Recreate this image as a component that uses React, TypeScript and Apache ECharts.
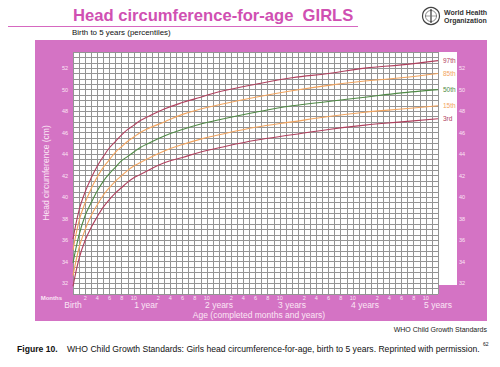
import React, { useEffect, useRef } from "react";
import * as echarts from "echarts";

const months = [0, 1, 2, 3, 4, 5, 6, 7, 8, 9, 10, 11, 12, 15, 18, 21, 24, 30, 36, 42, 48, 54, 60];
const p3 = [31.7, 34.3, 36.0, 37.2, 38.2, 39.1, 39.8, 40.4, 40.9, 41.4, 41.8, 42.1, 42.4, 43.2, 43.7, 44.2, 44.6, 45.3, 45.8, 46.3, 46.7, 47.0, 47.3];
const p15 = [32.7, 35.3, 37.0, 38.3, 39.3, 40.2, 40.9, 41.5, 42.0, 42.5, 42.9, 43.2, 43.5, 44.3, 44.9, 45.4, 45.8, 46.5, 47.0, 47.5, 47.9, 48.2, 48.5];
const p50 = [33.9, 36.5, 38.3, 39.5, 40.6, 41.5, 42.2, 42.8, 43.4, 43.8, 44.2, 44.6, 44.9, 45.7, 46.3, 46.8, 47.2, 47.9, 48.5, 48.9, 49.3, 49.7, 50.0];
const p85 = [35.1, 37.8, 39.5, 40.8, 41.9, 42.8, 43.5, 44.2, 44.7, 45.2, 45.6, 46.0, 46.3, 47.0, 47.7, 48.2, 48.6, 49.3, 49.9, 50.4, 50.8, 51.1, 51.5];
const p97 = [36.1, 38.8, 40.5, 41.8, 42.9, 43.8, 44.6, 45.2, 45.8, 46.3, 46.7, 47.1, 47.4, 48.2, 48.8, 49.3, 49.8, 50.5, 51.1, 51.5, 52.0, 52.3, 52.7];

const percentileNames = ["97th", "85th", "50th", "15th", "3rd"];
const yTickValues = [32, 34, 36, 38, 40, 42, 44, 46, 48, 50, 52];
const monthTickValues = [2, 4, 6, 8, 10, 14, 16, 18, 20, 22, 26, 28, 30, 32, 34, 38, 40, 42, 44, 46, 50, 52, 54, 56, 58];
const yearTickValues = [0, 12, 24, 36, 48, 60];
const yearLabels = ["Birth", "1 year", "2 years", "3 years", "4 years", "5 years"];

const PINK = "#d473c4";
const MAROON = "#b0405e";
const ORANGE = "#f2a45e";
const GREEN = "#4f8a45";
const LABEL = "#fbe6f5";
const FONT = "Liberation Sans, Arial, sans-serif";

export default function App() {
  const ref = useRef<HTMLDivElement>(null);
  useEffect(() => {
    if (!ref.current) return;
    const chart = echarts.init(ref.current, null, { renderer: "svg" });
    const seriesData = [p97, p85, p50, p15, p3];
    const colors = [MAROON, ORANGE, GREEN, ORANGE, MAROON];
    const series: any[] = seriesData.map((vals, i) => ({
      type: "line",
      name: percentileNames[i],
      data: months.map((m, j) => [m, vals[j]]),
      smooth: 0.4,
      showSymbol: false,
      symbol: "none",
      lineStyle: { color: colors[i], width: 1.1 },
      xAxisIndex: 0,
      yAxisIndex: 0,
      endLabel: {
        show: true,
        formatter: percentileNames[i],
        color: colors[i],
        fontSize: 6.5,
        fontFamily: FONT,
        distance: 5,
      },
      z: 5,
    }));

    chart.setOption({
      animation: false,
      textStyle: { fontFamily: FONT },
      graphic: [
        { type: "rect", shape: { x: 35, y: 40, width: 452, height: 281 }, style: { fill: PINK }, z: -10 },
        { type: "rect", shape: { x: 438, y: 52, width: 19, height: 233 }, style: { fill: "#ffffff" }, z: -5 },
        {
          type: "text", x: 73, y: 15,
          style: { text: "Head circumference-for-age  GIRLS", fill: "#d050b2", font: "bold 16.6px " + FONT, verticalAlign: "middle" },
        },
        { type: "line", shape: { x1: 8, y1: 26.5, x2: 358, y2: 26.5 }, style: { stroke: "#d668c0", lineWidth: 1 } },
        {
          type: "text", x: 72, y: 32,
          style: { text: "Birth to 5 years (percentiles)", fill: "#111", font: "7.9px " + FONT, verticalAlign: "middle" },
        },
        { type: "circle", shape: { cx: 431, cy: 16, r: 8.5 }, style: { fill: "#fff", stroke: "#444", lineWidth: 1.2 } },
        { type: "circle", shape: { cx: 431, cy: 16, r: 5.5 }, style: { fill: "none", stroke: "#666", lineWidth: 0.8 } },
        { type: "line", shape: { x1: 431, y1: 9, x2: 431, y2: 23 }, style: { stroke: "#333", lineWidth: 1.2 } },
        { type: "line", shape: { x1: 425, y1: 16, x2: 437, y2: 16 }, style: { stroke: "#777", lineWidth: 0.7 } },
        {
          type: "text", x: 444, y: 12,
          style: { text: "World Health", fill: "#333", font: "bold 7px " + FONT, verticalAlign: "middle" },
        },
        {
          type: "text", x: 444, y: 20,
          style: { text: "Organization", fill: "#333", font: "bold 7px " + FONT, verticalAlign: "middle" },
        },
        {
          type: "text", x: 62, y: 298,
          style: { text: "Months", fill: LABEL, font: "bold 6px " + FONT, verticalAlign: "middle", align: "right" },
        },
        {
          type: "text", x: 259, y: 314.5,
          style: { text: "Age (completed months and years)", fill: LABEL, font: "8.5px " + FONT, verticalAlign: "middle", align: "center" },
        },
        {
          type: "text", x: 487, y: 329,
          style: { text: "WHO Child Growth Standards", fill: "#222", font: "7px " + FONT, verticalAlign: "middle", align: "right" },
        },
        {
          type: "text", x: 17, y: 349,
          style: { text: "Figure 10.", fill: "#111", font: "bold 8.6px " + FONT, verticalAlign: "middle" },
        },
        {
          type: "text", x: 67, y: 349,
          style: { text: "WHO Child Growth Standards: Girls head circumference-for-age, birth to 5 years. Reprinted with permission.", fill: "#111", font: "8.6px " + FONT, verticalAlign: "middle" },
        },
        {
          type: "text", x: 483, y: 344,
          style: { text: "62", fill: "#111", font: "5px " + FONT, verticalAlign: "middle" },
        },
      ],
      grid: {
        left: 73, top: 52, width: 365, height: 242,
        show: true, backgroundColor: "#ffffff", borderWidth: 0,
      },
      xAxis: [
        {
          type: "value", min: 0, max: 60, interval: 1, position: "bottom",
          axisLine: { show: false }, axisTick: { show: false },
          splitLine: { show: true, lineStyle: { color: "#949494", width: 1 } },
          axisLabel: {
            customValues: monthTickValues,
            formatter: (v: number) => String(v % 12),
            color: LABEL, fontSize: 5.5, lineHeight: 5.5, margin: 1.5, fontFamily: FONT,
          },
        },
        {
          type: "value", min: 0, max: 60, position: "bottom", offset: 0,
          axisLine: { show: false }, axisTick: { show: false }, splitLine: { show: false },
          axisLabel: {
            customValues: yearTickValues,
            formatter: (v: number) => yearLabels[yearTickValues.indexOf(v)],
            color: LABEL, fontSize: 8.5, lineHeight: 8, margin: 7, fontFamily: FONT,
          },
        },
      ],
      yAxis: [
        {
          type: "value", min: 31, max: 53.5, interval: 0.5, position: "left",
          name: "Head circumference (cm)", nameLocation: "middle", nameGap: 19, nameRotate: 90,
          nameTextStyle: { color: LABEL, fontSize: 8.5, fontFamily: FONT },
          axisLine: { show: false }, axisTick: { show: false },
          splitLine: { show: true, lineStyle: { color: "#949494", width: 1 } },
          axisLabel: { customValues: yTickValues, color: LABEL, fontSize: 5.5, margin: 5, fontFamily: FONT },
        },
        {
          type: "value", min: 31, max: 53.5, position: "right",
          axisLine: { show: false },
          axisTick: { show: true, customValues: yTickValues, length: 19, inside: false, lineStyle: { color: "#949494", width: 1 } },
          splitLine: { show: false },
          axisLabel: { customValues: yTickValues, color: LABEL, fontSize: 5.5, margin: 21, fontFamily: FONT },
        },
      ],
      series,
    });
    return () => chart.dispose();
  }, []);
  return (
    <div style={{ position: "fixed", left: 0, top: 0, width: 500, height: 367, background: "#fff" }}>
      <div ref={ref} style={{ width: 500, height: 367 }} />
    </div>
  );
}
